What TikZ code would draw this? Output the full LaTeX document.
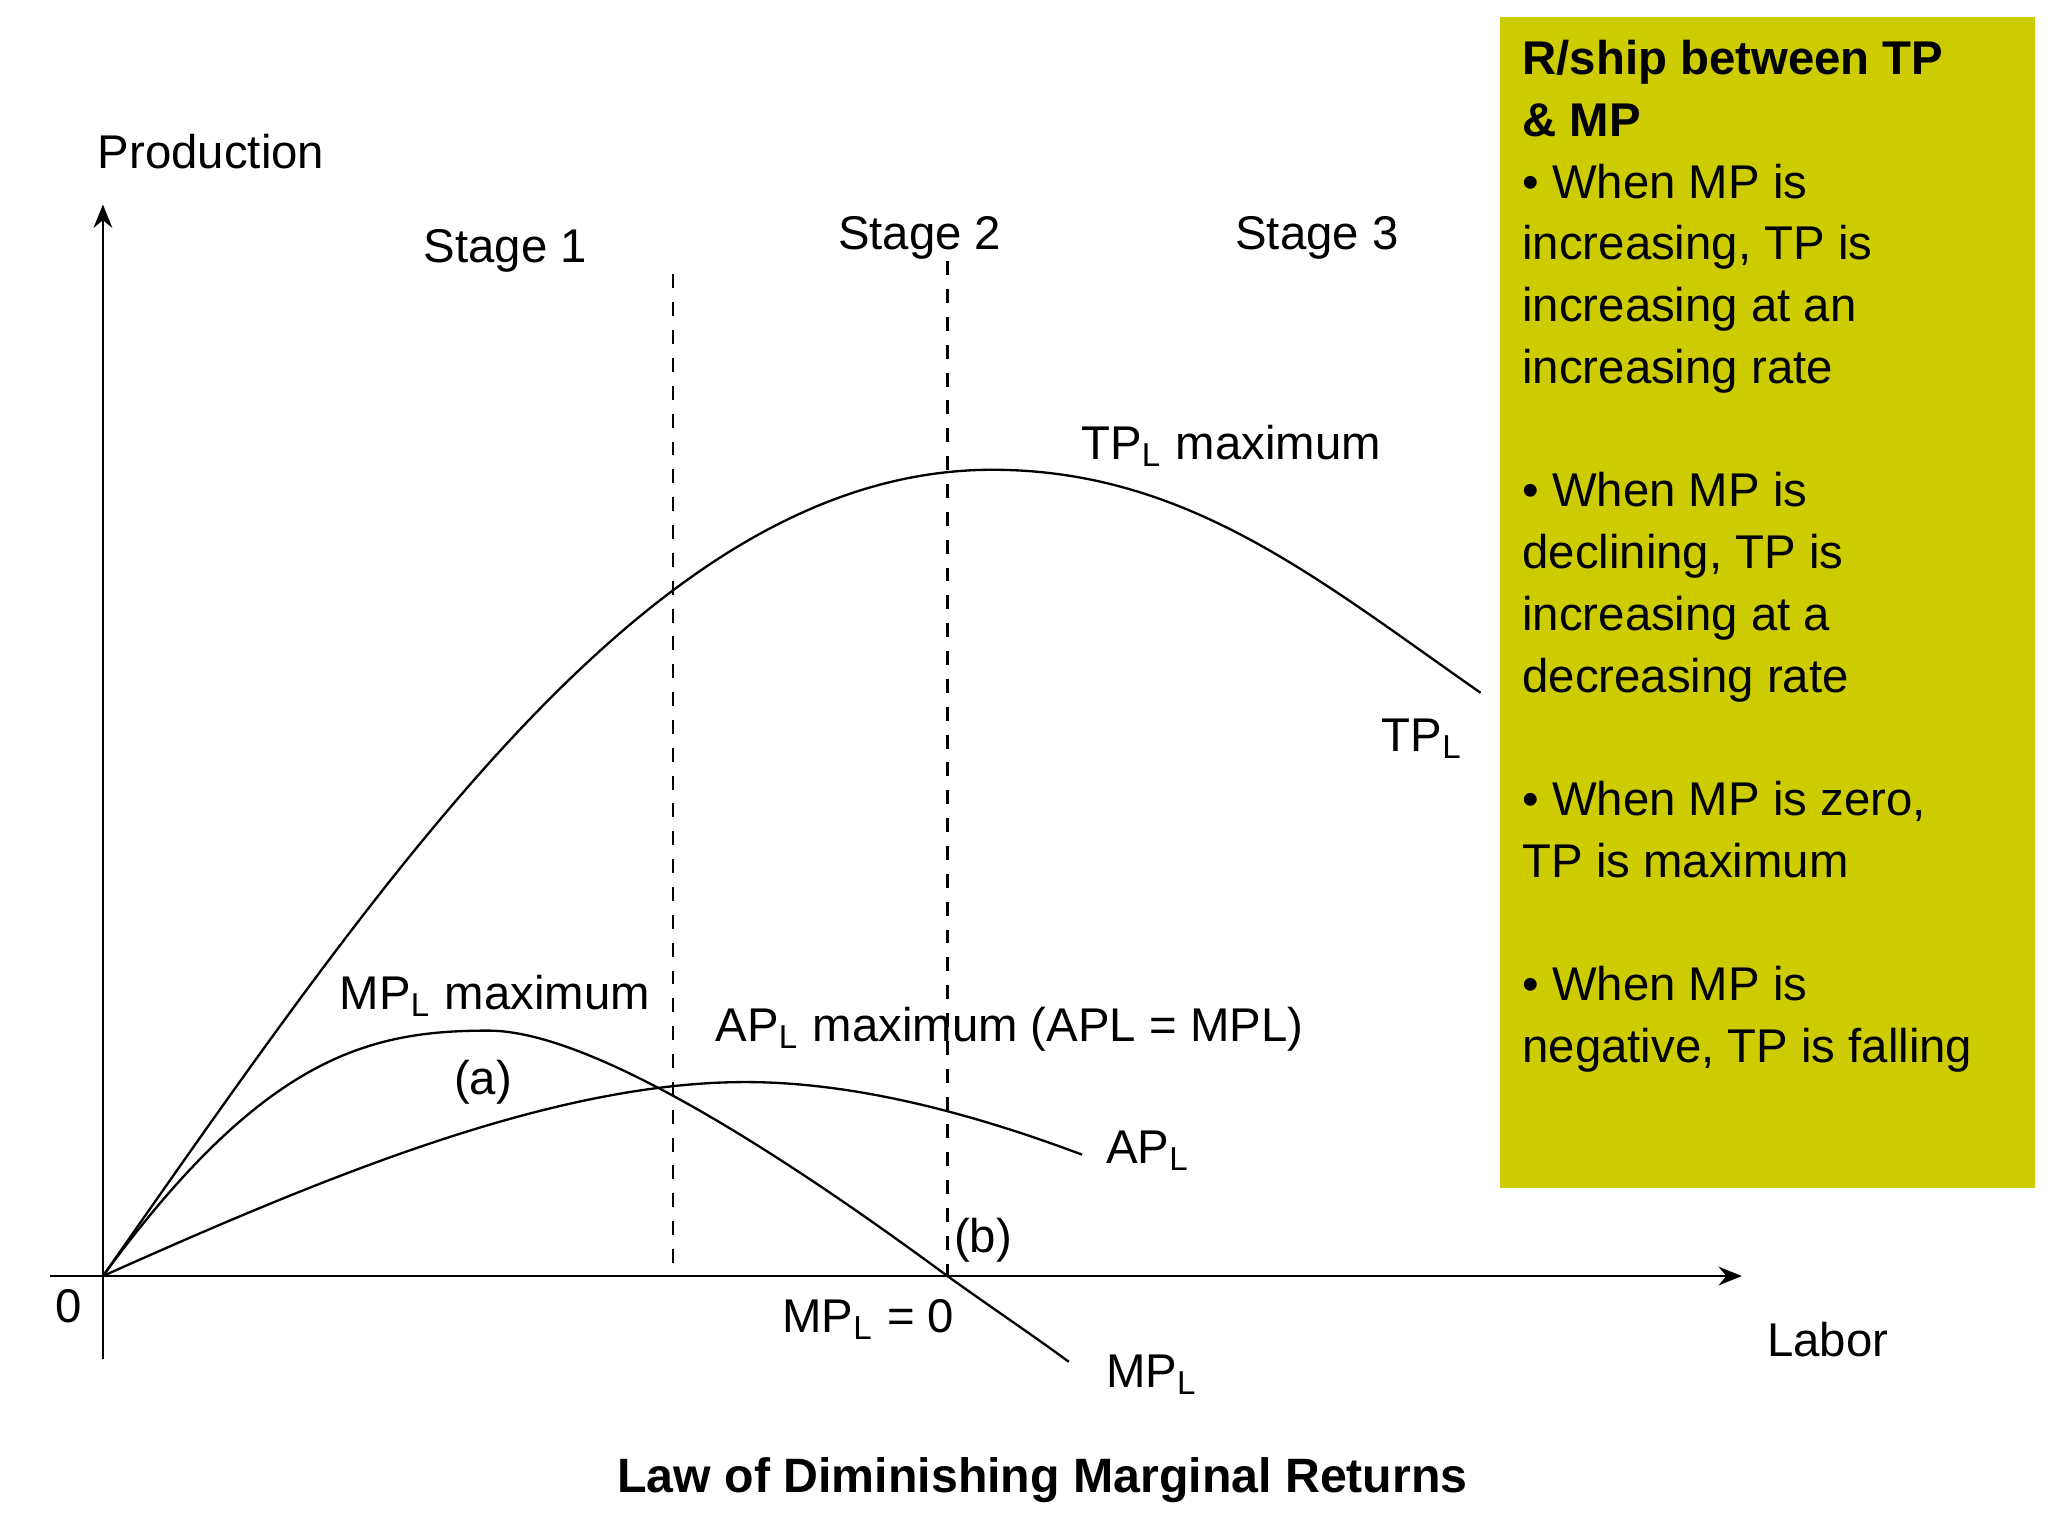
\documentclass[tikz,border=0pt]{standalone}
\usepackage{fontspec}
\setmainfont{Liberation Sans}
\usetikzlibrary{arrows.meta}
\definecolor{boxyel}{HTML}{CCCC00}
\begin{document}
\begin{tikzpicture}[x=0.01cm,y=-0.01cm,
  lbl/.style={font=\fontsize{10.2}{12}\selectfont,inner sep=0pt},
  curve/.style={line width=0.5pt},
  axis/.style={line width=0.6pt,-{Stealth[length=5pt,width=4pt]}},
  divider/.style={dashed,line width=0.5pt}]
\useasboundingbox (0,0) rectangle (1552,1164);
% axes
\coordinate (o) at (78,967);
\coordinate (ybot) at (78,1030);
\coordinate (ytop) at (78,155);
\coordinate (xl) at (38,967);
\coordinate (xr) at (1320,967);
\draw[axis] (ybot) -- (ytop);
\draw[axis] (xl) -- (xr);
% dividers
\coordinate (d1t) at (510,208); \coordinate (d1b) at (510,967);
\coordinate (d2t) at (718,198); \coordinate (d2b) at (718,967);
\draw[divider] (d1t) -- (d1b);
\draw[divider] (d2t) -- (d2b);
% curves
\draw[curve] (o) .. controls (300,650) and (500,356) .. (752,356) .. controls (900,356) and (1000,440) .. (1122,525);
\draw[curve] (o) .. controls (200,800) and (280,781) .. (370,781) .. controls (450,781) and (600,880) .. (718,967) .. controls (750,990) and (780,1010) .. (810,1032);
\draw[curve] (o) .. controls (250,890) and (420,820) .. (565,820) .. controls (650,820) and (740,845) .. (820,875);
% labels
\node[lbl] (prod) at (160,115) {Production};
\node[lbl] (zero) at (52,990) {0};
\node[lbl] (labor) at (1385,1015) {Labor};
\node[lbl] (s1) at (383,190) {Stage 1};
\node[lbl] (s2) at (697,180) {Stage 2};
\node[lbl] (s3) at (998,180) {Stage 3};
\node[lbl] (tpmax) at (933,338) {TP\textsubscript{L} maximum};
\node[lbl] (tpl) at (1078,560) {TP\textsubscript{L}};
\node[lbl] (mpmax) at (375,755) {MP\textsubscript{L} maximum};
\node[lbl] (a) at (366,820) {(a)};
\node[lbl] (apmax) at (765,780) {AP\textsubscript{L} maximum (APL = MPL)};
\node[lbl] (apl) at (870,872) {AP\textsubscript{L}};
\node[lbl] (b) at (745,940) {(b)};
\node[lbl] (mp0) at (658,1000) {MP\textsubscript{L} = 0};
\node[lbl] (mpl) at (873,1042) {MP\textsubscript{L}};
\node[lbl,font=\bfseries\fontsize{10.4}{12}\selectfont] (title) at (790,1122) {Law of Diminishing Marginal Returns};
% box
\fill[boxyel] (1137,13) rectangle (1542,900);
\node[anchor=north west,inner sep=0pt,align=left,font=\fontsize{10.2}{13.3}\selectfont] (box) at (1153,30) {%
\textbf{R/ship between TP}\\ \textbf{\& MP}\\
• When MP is\\ increasing, TP is\\ increasing at an\\ increasing rate\\[13.3pt]
• When MP is\\ declining, TP is\\ increasing at a\\ decreasing rate\\[13.3pt]
• When MP is zero,\\ TP is maximum\\[13.3pt]
• When MP is\\ negative, TP is falling};
\end{tikzpicture}
\end{document}
